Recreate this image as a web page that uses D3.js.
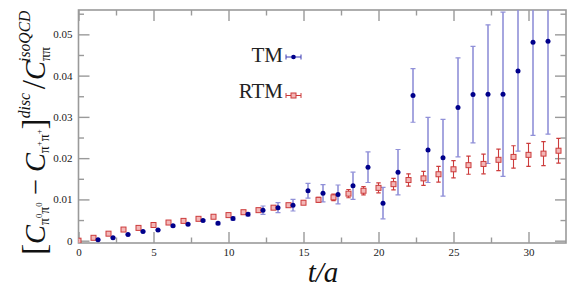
<!DOCTYPE html>
<html>
<head>
	<meta charset="utf-8">
	<script src="https://cdnjs.cloudflare.com/ajax/libs/d3/7.8.5/d3.min.js"></script>
	<style>
		body { margin: 0; background: #fff; }
		svg text { font-family: "Liberation Serif", "Times New Roman", "DejaVu Serif", serif; }
	</style>
</head>
<body>
	<svg width="581" height="291"></svg>
	<script>
		// TM points (plotted with a small t shift so they don't sit on RTM)
		const tmT = d3.range(1, 32);
		const tmVal = [0.0002, 0.0007, 0.0015, 0.0022, 0.0026, 0.0036, 0.0040, 0.0049, 0.0042, 0.0054,
			0.0064, 0.0074, 0.0080, 0.0086, 0.0121, 0.0115, 0.0112, 0.0133, 0.0178, 0.0091,
			0.0166, 0.0352, 0.0220, 0.0201, 0.0323, 0.0354, 0.0355, 0.0355, 0.0411, 0.0481, 0.0483];
		const tmErr = [0.0001, 0.0001, 0.0001, 0.0001, 0.0001, 0.0002, 0.0002, 0.0002, 0.0003, 0.0004,
			0.0004, 0.0010, 0.0012, 0.0014, 0.0018, 0.0021, 0.0023, 0.0033, 0.0037, 0.0038,
			0.0055, 0.0065, 0.0079, 0.0093, 0.0120, 0.0117, 0.0168, 0.0199, 0.0194, 0.0226, 0.0225];

		// RTM points
		const rtmT = d3.range(0, 33);
		const rtmVal = [0.0000, 0.0007, 0.0017, 0.0027, 0.0031, 0.0038, 0.0044, 0.0048, 0.0053, 0.0058,
			0.0062, 0.0069, 0.0074, 0.0080, 0.0086, 0.0092, 0.0099, 0.0105, 0.0114, 0.0121,
			0.0128, 0.0137, 0.0147, 0.0151, 0.0161, 0.0173, 0.0183, 0.0186, 0.0196, 0.0203,
			0.0208, 0.0211, 0.0218];
		const rtmErr = [0.0001, 0.0001, 0.0001, 0.0001, 0.0001, 0.0001, 0.0001, 0.0001, 0.0001, 0.0001,
			0.0001, 0.0002, 0.0002, 0.0002, 0.0003, 0.0004, 0.0006, 0.0008, 0.0010, 0.0010,
			0.0012, 0.0014, 0.0015, 0.0017, 0.0019, 0.0021, 0.0022, 0.0024, 0.0026, 0.0027,
			0.0028, 0.0029, 0.0030];

		const xTicks = [0, 5, 10, 15, 20, 25, 30];
		const yTicks = [0, 0.01, 0.02, 0.03, 0.04, 0.05];
		const yTickLabels = ["0", "0.01", "0.02", "0.03", "0.04", "0.05"];

		const tmShift = 0.3;
		const serif = "Liberation Serif, Times New Roman, DejaVu Serif, serif";
		const frameCol = "#9a9a9a";
		const tmCol = "#00008b", tmBarCol = "#9090d8";
		const rtmCol = "#cc3b3b", rtmFill = "#f3b7b7";

		let svg = d3.select("svg"),
			pLeft = 78.5, pRight = 566, pTop = 10, pBottom = 243;

		let x = d3.scaleLinear().domain([0, 32.5]).range([pLeft, pRight]),
			y = d3.scaleLinear().domain([-0.00056, 0.0559]).range([pBottom, pTop]);

		svg.append("defs").append("clipPath").attr("id", "plotclip")
			.append("rect").attr("x", pLeft).attr("y", pTop)
			.attr("width", pRight - pLeft).attr("height", pBottom - pTop);

		// ticks on all four sides, pointing inward
		function ticks(axisFn, scale, values, minor, transform, labels) {
			let gMaj = svg.append("g").attr("transform", transform)
				.call(axisFn(scale).tickValues(values).tickSizeInner(-11).tickSizeOuter(0)
					.tickFormat(labels ? (d, i) => labels[i] : "").tickPadding(16));
			let gMin = svg.append("g").attr("transform", transform)
				.call(axisFn(scale).tickValues(minor).tickSizeInner(-5.5).tickSizeOuter(0).tickFormat(""));
			[gMaj, gMin].forEach(g => {
				g.attr("font-family", serif);
				g.select(".domain").remove();
				g.selectAll("line").attr("stroke", frameCol).attr("stroke-width", 1.4);
				g.selectAll("text").attr("font-size", 11).attr("fill", "#222");
			});
			return gMaj;
		}
		let xMinor = [2.5, 7.5, 12.5, 17.5, 22.5, 27.5];
		let yMinor = [0.005, 0.015, 0.025, 0.035, 0.045, 0.055];

		let gx = ticks(d3.axisBottom, x, xTicks, xMinor, "translate(0," + pBottom + ")", xTicks.map(String));
		gx.selectAll("text").attr("dy", "0em").attr("y", 13);
		ticks(d3.axisTop, x, xTicks, xMinor, "translate(0," + pTop + ")", null);
		let gy = ticks(d3.axisLeft, y, yTicks, yMinor, "translate(" + pLeft + ",0)", yTickLabels);
		gy.selectAll("text").attr("x", -6);
		ticks(d3.axisRight, y, yTicks, yMinor, "translate(" + pRight + ",0)", null);

		// frame
		svg.append("rect")
			.attr("x", pLeft).attr("y", pTop)
			.attr("width", pRight - pLeft).attr("height", pBottom - pTop)
			.attr("fill", "none").attr("stroke", frameCol).attr("stroke-width", 1.6);

		let plot = svg.append("g").attr("clip-path", "url(#plotclip)");

		let tmData = tmT.map((t, i) => ({t: t + tmShift, v: tmVal[i], e: tmErr[i]}));
		let rtmData = rtmT.map((t, i) => ({t: t, v: rtmVal[i], e: rtmErr[i]}));

		function errorBars(g, data, col, width, cap) {
			let eb = g.append("g").selectAll("g").data(data).enter().append("g")
				.attr("stroke", col).attr("stroke-width", width);
			eb.append("line")
				.attr("x1", d => x(d.t)).attr("x2", d => x(d.t))
				.attr("y1", d => y(d.v - d.e)).attr("y2", d => y(d.v + d.e));
			[-1, 1].forEach(s => {
				eb.append("line")
					.attr("x1", d => x(d.t) - cap).attr("x2", d => x(d.t) + cap)
					.attr("y1", d => y(d.v + s * d.e)).attr("y2", d => y(d.v + s * d.e))
					.attr("stroke-width", 1.2);
			});
		}

		errorBars(plot, tmData, tmBarCol, 1.6, 2.5);
		errorBars(plot, rtmData, rtmCol, 1.1, 2.2);

		plot.append("g").selectAll("rect").data(rtmData).enter().append("rect")
			.attr("x", d => x(d.t) - 2.5).attr("y", d => y(d.v) - 2.5)
			.attr("width", 5).attr("height", 5)
			.attr("fill", rtmFill).attr("stroke", rtmCol).attr("stroke-width", 1);

		plot.append("g").selectAll("circle").data(tmData).enter().append("circle")
			.attr("cx", d => x(d.t)).attr("cy", d => y(d.v)).attr("r", 2.5)
			.attr("fill", tmCol);

		// legend
		let legend = svg.append("g").attr("font-size", 21).attr("font-family", serif);
		[{name: "TM", yy: 62, my: 57}, {name: "RTM", yy: 98, my: 95.5}].forEach((l, i) => {
			legend.append("text").attr("x", 283).attr("y", l.yy)
				.attr("text-anchor", "end").attr("fill", "#222").text(l.name);
			let lc = i === 0 ? "#3c3cb4" : rtmCol;
			legend.append("line").attr("x1", 286).attr("x2", 301).attr("y1", l.my).attr("y2", l.my)
				.attr("stroke", lc).attr("stroke-width", 1);
			[286, 301].forEach(cx => legend.append("line").attr("x1", cx).attr("x2", cx)
				.attr("y1", l.my - 2.5).attr("y2", l.my + 2.5)
				.attr("stroke", lc).attr("stroke-width", 1));
			if (i === 0) {
				legend.append("circle").attr("cx", 293.5).attr("cy", l.my).attr("r", 2.3).attr("fill", tmCol);
			} else {
				legend.append("rect").attr("x", 291).attr("y", l.my - 2.5).attr("width", 5).attr("height", 5)
					.attr("fill", rtmFill).attr("stroke", rtmCol).attr("stroke-width", 1);
			}
		});

		// x axis label
		svg.append("text")
			.attr("x", 323).attr("y", 282)
			.attr("text-anchor", "middle").attr("font-family", serif)
			.attr("font-size", 29).attr("font-style", "italic").attr("fill", "#111")
			.text("t/a");

		// y axis label, built left to right then rotated and fitted to its span
		let yl = svg.append("text")
			.attr("font-family", serif).attr("font-size", 29).attr("fill", "#111");
		function piPair(sup) {
			yl.append("tspan").attr("font-size", 14).attr("dy", 4).text("π");
			yl.append("tspan").attr("font-size", 9).attr("dy", -7).text(sup);
			yl.append("tspan").attr("font-size", 14).attr("dy", 7).text("π");
			yl.append("tspan").attr("font-size", 9).attr("dy", -7).text(sup);
		}
		yl.append("tspan").attr("font-size", 34).attr("dy", 0).text("[");
		yl.append("tspan").attr("font-style", "italic").text("C");
		piPair("0");
		yl.append("tspan").attr("dy", 3).text(" − ");
		yl.append("tspan").attr("font-style", "italic").text("C");
		piPair("+");
		yl.append("tspan").attr("font-size", 34).attr("dy", 3).text("]");
		yl.append("tspan").attr("font-size", 16).attr("font-style", "italic").attr("dy", -15).text("disc");
		yl.append("tspan").attr("font-size", 34).attr("dx", 4).attr("dy", 15).text("/");
		yl.append("tspan").attr("font-style", "italic").text("C");
		let pp = yl.append("tspan").attr("font-size", 14).attr("dy", 5).text("ππ");
		let iso = yl.append("tspan").attr("font-size", 16).attr("font-style", "italic").attr("dy", -20).text("isoQCD");
		iso.attr("dx", -pp.node().getComputedTextLength() - 1);

		let bb = yl.node().getBBox();
		let sc = 245 / bb.width;
		yl.attr("transform", "translate(45,255) rotate(-90) scale(" + sc + ") translate(" + (-bb.x) + ",0)");
	</script>
</body>
</html>
